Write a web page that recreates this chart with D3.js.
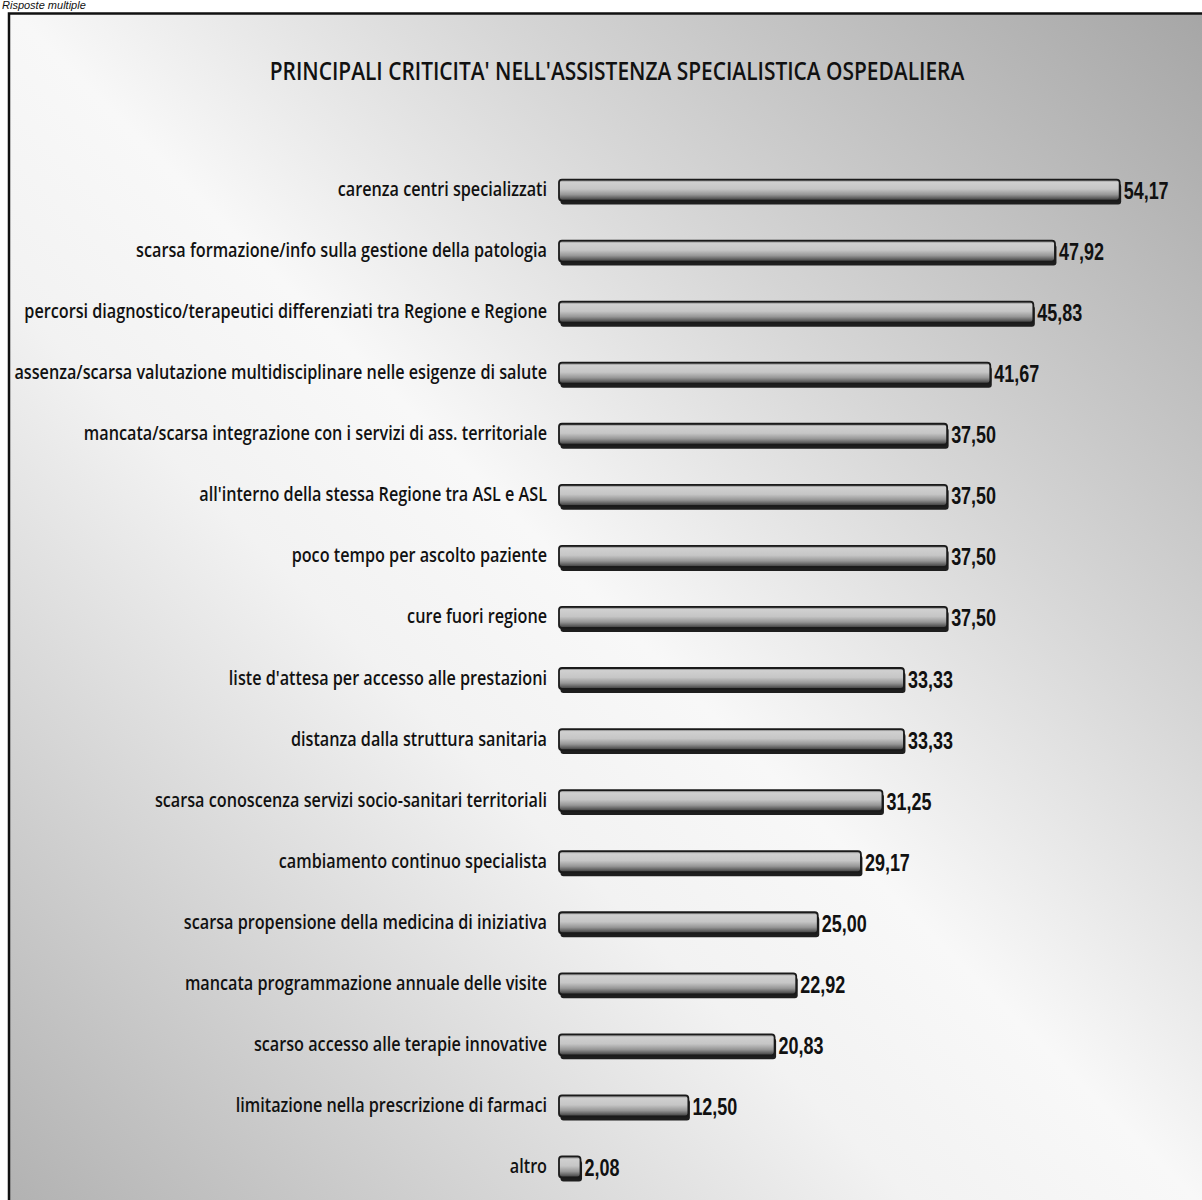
<!DOCTYPE html>
<html>
<head>
<meta charset="utf-8">
<script src="https://cdn.jsdelivr.net/npm/d3@7"></script>
<style>
  html, body { margin: 0; padding: 0; background: #fff; }
  svg { display: block; }
</style>
</head>
<body>
<script>
// Survey answers (multiple choice), percentage of respondents
const categories = [
  "carenza centri specializzati",
  "scarsa formazione/info sulla gestione della patologia",
  "percorsi diagnostico/terapeutici differenziati tra Regione e Regione",
  "assenza/scarsa valutazione multidisciplinare nelle esigenze di salute",
  "mancata/scarsa integrazione con i servizi di ass. territoriale",
  "all'interno della stessa Regione tra ASL e ASL",
  "poco tempo per ascolto paziente",
  "cure fuori regione",
  "liste d'attesa per accesso alle prestazioni",
  "distanza dalla struttura sanitaria",
  "scarsa conoscenza servizi socio-sanitari territoriali",
  "cambiamento continuo specialista",
  "scarsa propensione della medicina di iniziativa",
  "mancata programmazione annuale delle visite",
  "scarso accesso alle terapie innovative",
  "limitazione nella prescrizione di farmaci",
  "altro"
];
const values = [54.17, 47.92, 45.83, 41.67, 37.50, 37.50, 37.50, 37.50,
                33.33, 33.33, 31.25, 29.17, 25.00, 22.92, 20.83, 12.50, 2.08];

const titleText = "PRINCIPALI CRITICITA' NELL'ASSISTENZA SPECIALISTICA OSPEDALIERA";
const captionText = "Risposte multiple";

const W = 1202, H = 1200;
const svg = d3.select("body").append("svg").attr("width", W).attr("height", H);
const defs = svg.append("defs");

// Diagonal background shading: grey corners, light band across the middle
const bg = defs.append("linearGradient").attr("id", "bgGrad")
  .attr("gradientUnits", "userSpaceOnUse")
  .attr("x1", 1202).attr("y1", 13).attr("x2", 10).attr("y2", 1200);
[[0, "#a6a6a6"], [0.3, "#d6d6d6"], [0.5, "#f8f8f8"], [0.62, "#f2f2f2"], [1, "#b2b2b2"]]
  .forEach(([o, c]) => bg.append("stop").attr("offset", o).attr("stop-color", c));

// Cylinder-like shading for the bars
const bar = defs.append("linearGradient").attr("id", "barGrad")
  .attr("x1", 0).attr("y1", 0).attr("x2", 0).attr("y2", 1);
[[0, "#5a5a5a"], [0.12, "#d0d0d0"], [0.45, "#c6c6c6"], [0.72, "#969696"], [1, "#3a3a3a"]]
  .forEach(([o, c]) => bar.append("stop").attr("offset", o).attr("stop-color", c));

// Frame
svg.append("rect")
  .attr("x", 9).attr("y", 13.5).attr("width", 1210).attr("height", 1210)
  .attr("fill", "url(#bgGrad)").attr("stroke", "#111").attr("stroke-width", 2.5);

// Caption above the frame
svg.append("text")
  .attr("x", 2).attr("y", 9)
  .attr("font-family", "'Liberation Sans', Arial, sans-serif")
  .attr("font-style", "italic")
  .attr("font-size", 11)
  .attr("fill", "#111")
  .text(captionText);

const labelFont = "'Open Sans', 'DejaVu Sans', sans-serif";
const valueFont = "'Liberation Sans Narrow', 'Liberation Sans', Arial, sans-serif";

// Title, horizontally compressed to a condensed look
const titleG = svg.append("g");
const title = titleG.append("text")
  .attr("text-anchor", "middle")
  .attr("font-family", labelFont)
  .attr("font-weight", 600)
  .attr("font-size", 26)
  .attr("fill", "#111")
  .text(titleText);
const titleW = title.node().getComputedTextLength();
titleG.attr("transform", `translate(617,80) scale(${695 / titleW},1)`);

// Scales
const x = d3.scaleLinear().domain([0, 60]).range([559, 559 + 621]);
const y = d3.scaleBand().domain(categories).range([159.5, 1197.5]).paddingInner(0).paddingOuter(0);
const barH = 21;

const rows = svg.append("g").selectAll("g.row")
  .data(categories.map((c, i) => ({ c, v: values[i] })))
  .join("g").attr("class", "row");

// Category labels (right aligned, condensed)
const labelG = rows.append("g");
labelG.append("text")
  .attr("text-anchor", "end")
  .attr("font-family", labelFont)
  .attr("font-weight", 600)
  .attr("font-size", 20)
  .attr("fill", "#111")
  .text(d => d.c);
let maxLabelW = 0;
labelG.select("text").each(function () { maxLabelW = Math.max(maxLabelW, this.getComputedTextLength()); });
const labelScale = 533 / maxLabelW;
labelG.attr("transform", d => `translate(547,${y(d.c) + y.bandwidth() / 2 + 6}) scale(${labelScale},1)`);

// Bar shadow and body
rows.append("rect")
  .attr("x", x(0) + 1.5)
  .attr("y", d => y(d.c) + (y.bandwidth() - barH) / 2 + 4)
  .attr("width", d => x(d.v) - x(0))
  .attr("height", barH)
  .attr("rx", 3)
  .attr("fill", "#1e1e1e");
rows.append("rect")
  .attr("x", x(0))
  .attr("y", d => y(d.c) + (y.bandwidth() - barH) / 2)
  .attr("width", d => x(d.v) - x(0))
  .attr("height", barH)
  .attr("rx", 3)
  .attr("fill", "url(#barGrad)")
  .attr("stroke", "#1a1a1a")
  .attr("stroke-width", 1.8);

// Value labels with comma decimal separator
const fmt = v => d3.format(".2f")(v).replace(".", ",");
const valG = rows.append("g");
valG.append("text")
  .attr("font-family", valueFont)
  .attr("font-weight", "bold")
  .attr("font-size", 23)
  .attr("fill", "#111")
  .text(d => fmt(d.v));
const refW = valG.filter((d, i) => i === 0).select("text").node().getComputedTextLength();
const valScale = 45 / refW;
valG.attr("transform", d => `translate(${x(d.v) + 4},${y(d.c) + y.bandwidth() / 2 + 9}) scale(${valScale},1)`);
</script>
</body>
</html>
